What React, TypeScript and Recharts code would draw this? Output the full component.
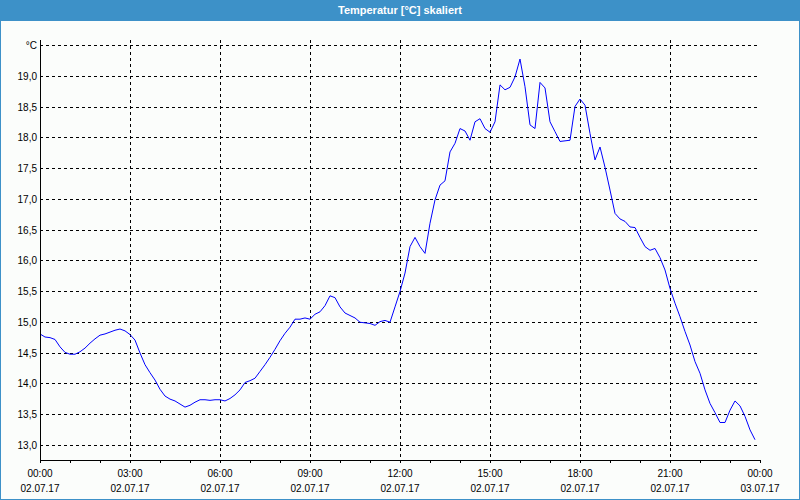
import React from "react";
import {
  LineChart,
  Line,
  XAxis,
  YAxis,
  CartesianGrid,
} from "recharts";

// 10-minute samples, 02.07.17 00:00 .. 23:50
const temperatures: number[] = [
  14.81, 14.76, 14.75, 14.72, 14.6, 14.51, 14.48, 14.48, 14.52, 14.58,
  14.66, 14.73, 14.79, 14.81, 14.84, 14.87, 14.89, 14.86, 14.8, 14.71,
  14.5, 14.31, 14.18, 14.06, 13.91, 13.8, 13.75, 13.72, 13.67, 13.62,
  13.65, 13.7, 13.74, 13.74, 13.73, 13.74, 13.74, 13.72, 13.76, 13.82,
  13.9, 14.02, 14.05, 14.09, 14.2, 14.31, 14.43, 14.56, 14.7, 14.82,
  14.92, 15.05, 15.05, 15.07, 15.05, 15.13, 15.17, 15.27, 15.43, 15.4,
  15.25, 15.15, 15.11, 15.07, 15.0, 14.99, 14.98, 14.95, 15.01, 15.03,
  15.0, 15.25, 15.5, 15.8, 16.23, 16.38, 16.23, 16.12, 16.61, 16.99,
  17.23, 17.3, 17.77, 17.91, 18.15, 18.11, 17.96, 18.26, 18.31, 18.15,
  18.09, 18.26, 18.86, 18.78, 18.82, 18.99, 19.28, 18.83, 18.21, 18.15,
  18.9, 18.81, 18.26, 18.1, 17.94, 17.95, 17.96, 18.51, 18.63, 18.53,
  18.07, 17.64, 17.85, 17.52, 17.15, 16.77, 16.68, 16.64, 16.55, 16.54,
  16.38, 16.23, 16.17, 16.2, 16.05, 15.85, 15.55, 15.31, 15.09, 14.85,
  14.63, 14.36, 14.17, 13.9, 13.68, 13.53, 13.37, 13.37, 13.57, 13.72,
  13.64, 13.47, 13.25, 13.09,
];

const sampleStepMinutes = 10;

const timeLabels = ["00:00", "03:00", "06:00", "09:00", "12:00", "15:00", "18:00", "21:00", "00:00"];
const dateLabels = ["02.07.17", "02.07.17", "02.07.17", "02.07.17", "02.07.17", "02.07.17", "02.07.17", "02.07.17", "03.07.17"];
const labelTicks = [0, 180, 360, 540, 720, 900, 1080, 1260, 1440];
const minorTicks = [0, 60, 120, 180, 240, 300, 360, 420, 480, 540, 600, 660, 720, 780, 840, 900, 960, 1020, 1080, 1140, 1200, 1260, 1320, 1380, 1440];
const gridX = [180, 360, 540, 720, 900, 1080, 1260];
const yTicks = [13, 13.5, 14, 14.5, 15, 15.5, 16, 16.5, 17, 17.5, 18, 18.5, 19, 19.5];
const yDomain: [number, number] = [12.76, 19.59];

const data = temperatures.map((v, i) => ({ t: i * sampleStepMinutes, v }));

const FONT = "'Liberation Sans', Arial, sans-serif";
const BLUE = "#3d91c8";

const XTick = (props: any) => {
  const { x, y, payload } = props;
  const idx = labelTicks.indexOf(payload.value);
  if (idx < 0) return null;
  return (
    <g>
      <text x={x} y={y + 13.5} textAnchor="middle" fontSize={10} fontFamily={FONT} fill="#000">
        {timeLabels[idx]}
      </text>
      <text x={x} y={y + 28.5} textAnchor="middle" fontSize={10} fontFamily={FONT} fill="#000">
        {dateLabels[idx]}
      </text>
    </g>
  );
};

const YTick = (props: any) => {
  const { x, y, payload } = props;
  const v: number = payload.value;
  const label = v === 19.5 ? "°C" : v.toFixed(1).replace(".", ",");
  return (
    <text x={x} y={y + 3.5} textAnchor="end" fontSize={10} fontFamily={FONT} fill="#000">
      {label}
    </text>
  );
};

export default function App() {
  return (
    <div
      style={{
        position: "absolute",
        left: 0,
        top: 0,
        width: 800,
        height: 500,
        background: "#fbfdfb",
        overflow: "hidden",
      }}
    >
      <div style={{ position: "absolute", left: 0, top: 0 }}>
        <LineChart
          width={800}
          height={500}
          data={data}
          margin={{ top: 40, right: 40, bottom: 0, left: 0 }}
        >
          <CartesianGrid
            stroke="#000"
            strokeDasharray="3 3"
            shapeRendering="crispEdges"
            verticalValues={gridX}
            horizontalValues={yTicks}
          />
          <XAxis
            dataKey="t"
            type="number"
            domain={[0, 1440]}
            ticks={minorTicks}
            interval={0}
            height={40}
            axisLine={{ stroke: "#000", shapeRendering: "crispEdges" }}
            tickLine={{ stroke: "#000", shapeRendering: "crispEdges" }}
            tickSize={3}
            tickMargin={0}
            tick={<XTick />}
            allowDataOverflow
          />
          <XAxis
            xAxisId="top"
            orientation="top"
            dataKey="t"
            type="number"
            domain={[0, 1440]}
            height={0}
            tick={false}
            tickLine={false}
            axisLine={{ stroke: "#000", shapeRendering: "crispEdges" }}
          />
          <YAxis
            type="number"
            domain={yDomain}
            ticks={yTicks}
            interval={0}
            width={40}
            axisLine={{ stroke: "#000", shapeRendering: "crispEdges" }}
            tickLine={false}
            tickSize={0}
            tickMargin={3}
            tick={<YTick />}
            allowDataOverflow
          />
          <YAxis
            yAxisId="right"
            orientation="right"
            type="number"
            domain={yDomain}
            width={0}
            tick={false}
            tickLine={false}
            axisLine={{ stroke: "#000", shapeRendering: "crispEdges" }}
          />
          <Line
            dataKey="v"
            type="linear"
            stroke="#0000ff"
            strokeWidth={1}
            dot={false}
            isAnimationActive={false}
          />
        </LineChart>
      </div>
      <div
        style={{
          position: "absolute",
          left: 0,
          top: 0,
          width: 800,
          height: 21,
          background: BLUE,
          color: "#fff",
          fontFamily: FONT,
          fontWeight: "bold",
          fontSize: 11,
          lineHeight: "21px",
          textAlign: "center",
        }}
      >
        Temperatur [°C] skaliert
      </div>
      <div
        style={{
          position: "absolute",
          left: 0,
          top: 0,
          width: 800,
          height: 500,
          boxSizing: "border-box",
          border: `1px solid ${BLUE}`,
          pointerEvents: "none",
        }}
      />
    </div>
  );
}
